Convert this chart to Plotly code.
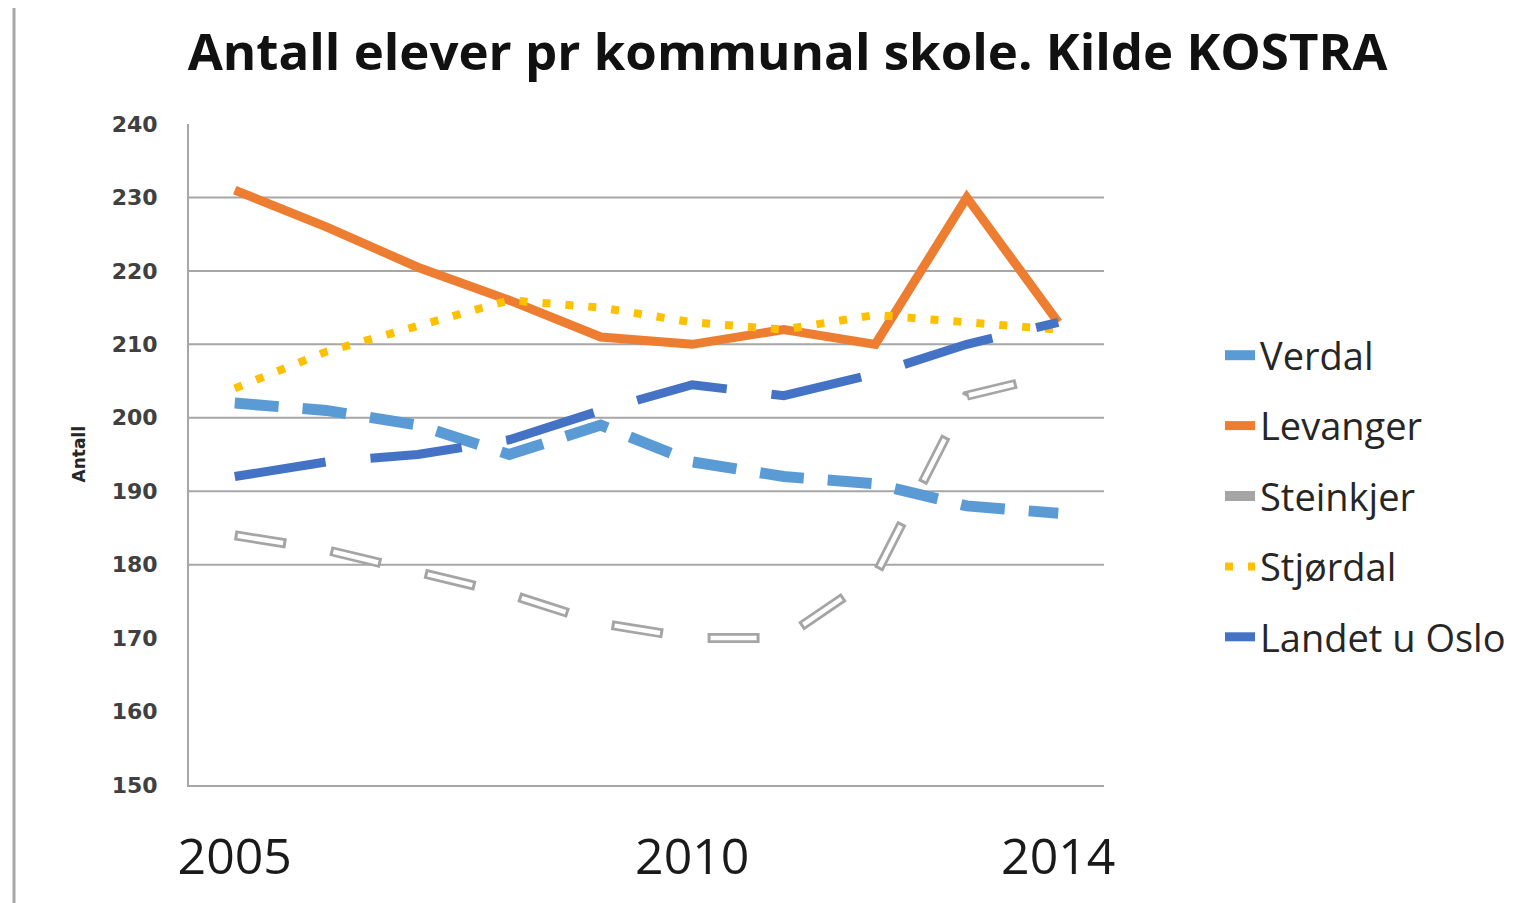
import plotly.graph_objects as go

years = [2005, 2006, 2007, 2008, 2009, 2010, 2011, 2012, 2013, 2014]
verdal = [202, 201, 199, 195, 199, 194, 192, 191, 188, 187]
levanger = [231, 226, 220.5, 216, 211, 210, 212, 210, 230, 213]
steinkjer = [184, 182, 179, 176, 172, 170, 170, 178.5, 203, 206]
stjordal = [204, 209, 212.5, 216, 215, 213, 212, 214, 213, 212]
landet = [192, 194, 195, 197, 201, 204.5, 203, 206, 210, 213]

x_tickvals = [2005, 2010, 2014]
x_ticktext = ["2005", "2010", "2014"]
y_tickvals = [150, 160, 170, 180, 190, 200, 210, 220, 230, 240]
grid_values = [180, 190, 200, 210, 220, 230]

# page body has an 8px margin; work in picture pixels and shift by it
OFF = 8
W, H = 1531 - OFF, 903 - OFF
ML, MT = 189 - OFF, 124 - OFF
PW = 1104 - 189
PH = 785 - 124
MR = W - ML - PW
MB = H - MT - PH

fig = go.Figure()

fig.add_trace(go.Scatter(x=years, y=verdal, name="Verdal", mode="lines",
                         legendgroup="Verdal",
                         line=dict(color="#5B9BD5", width=11, dash="44px,24px")))
fig.add_trace(go.Scatter(x=years, y=levanger, name="Levanger", mode="lines",
                         legendgroup="Levanger",
                         line=dict(color="#ED7D31", width=9)))
fig.add_trace(go.Scatter(x=years, y=steinkjer, name="Steinkjer", mode="lines",
                         legendgroup="Steinkjer",
                         line=dict(color="#A5A5A5", width=10, dash="52px,45px")))
fig.add_trace(go.Scatter(x=years, y=steinkjer, name="Steinkjer", mode="lines",
                         legendgroup="Steinkjer", showlegend=False,
                         line=dict(color="#FFFFFF", width=4.5, dash="0px,3px,46px,48px")))
fig.add_trace(go.Scatter(x=years, y=stjordal, name="Stjørdal", mode="lines",
                         legendgroup="Stjordal",
                         line=dict(color="#FFC000", width=8, dash="8px,15px")))
fig.add_trace(go.Scatter(x=years, y=landet, name="Landet u Oslo", mode="lines",
                         legendgroup="Landet",
                         line=dict(color="#4472C4", width=9, dash="92px,45px")))

shapes = []
for g in grid_values:
    shapes.append(dict(type="line", xref="paper", yref="y", x0=0, x1=1, y0=g, y1=g,
                       line=dict(color="#A6A6A6", width=2), layer="below"))
# frame line at far left of the picture
fx = (14 - 189) / PW
shapes.append(dict(type="line", xref="paper", yref="paper",
                   x0=fx, x1=fx, y0=(785 - 903) / PH, y1=(785 - 8) / PH,
                   line=dict(color="#A8A8A8", width=3)))


def px_x(p):
    return (p - 189) / PW


def px_y(p):
    return (785 - p) / PH


fig.update_layout(
    width=W, height=H,
    margin=dict(l=ML, r=MR, t=MT, b=MB, autoexpand=False),
    paper_bgcolor="white", plot_bgcolor="white",
    title=dict(text="<b>Antall elever pr kommunal skole. Kilde KOSTRA</b>",
               x=(787.5 - OFF) / W, xanchor="center", xref="container",
               y=1 - (52 - OFF) / H, yanchor="middle", yref="container",
               font=dict(family="Open Sans", size=51, color="#111111")),
    xaxis=dict(range=[2004.5, 2014.5], tickvals=x_tickvals, ticktext=x_ticktext,
               showgrid=False, zeroline=False, showline=True, linecolor="#A6A6A6",
               linewidth=2, ticks="", ticklabelstandoff=27,
               tickfont=dict(family="Open Sans", size=50, color="#1a1a1a")),
    yaxis=dict(range=[150, 240], tickvals=y_tickvals, showgrid=False, zeroline=False,
               showline=True, linecolor="#A6A6A6", linewidth=2, ticks="",
               ticklabelstandoff=25,
               tickfont=dict(family="DejaVu Sans", size=22, color="#404040", weight="bold")),
    legend=dict(x=px_x(1220), xanchor="left", y=px_y(324), yanchor="top",
                font=dict(family="Open Sans", size=38, color="#262626"),
                tracegroupgap=18, traceorder="grouped", bgcolor="rgba(0,0,0,0)"),
    shapes=shapes,
    annotations=[dict(text="<b>Antall</b>", textangle=-90, xref="paper", yref="paper",
                      x=px_x(78), y=0.5, xanchor="center", yanchor="middle",
                      showarrow=False, font=dict(family="DejaVu Sans", size=17, color="#262626"))],
)

fig.write_html("out.html")
